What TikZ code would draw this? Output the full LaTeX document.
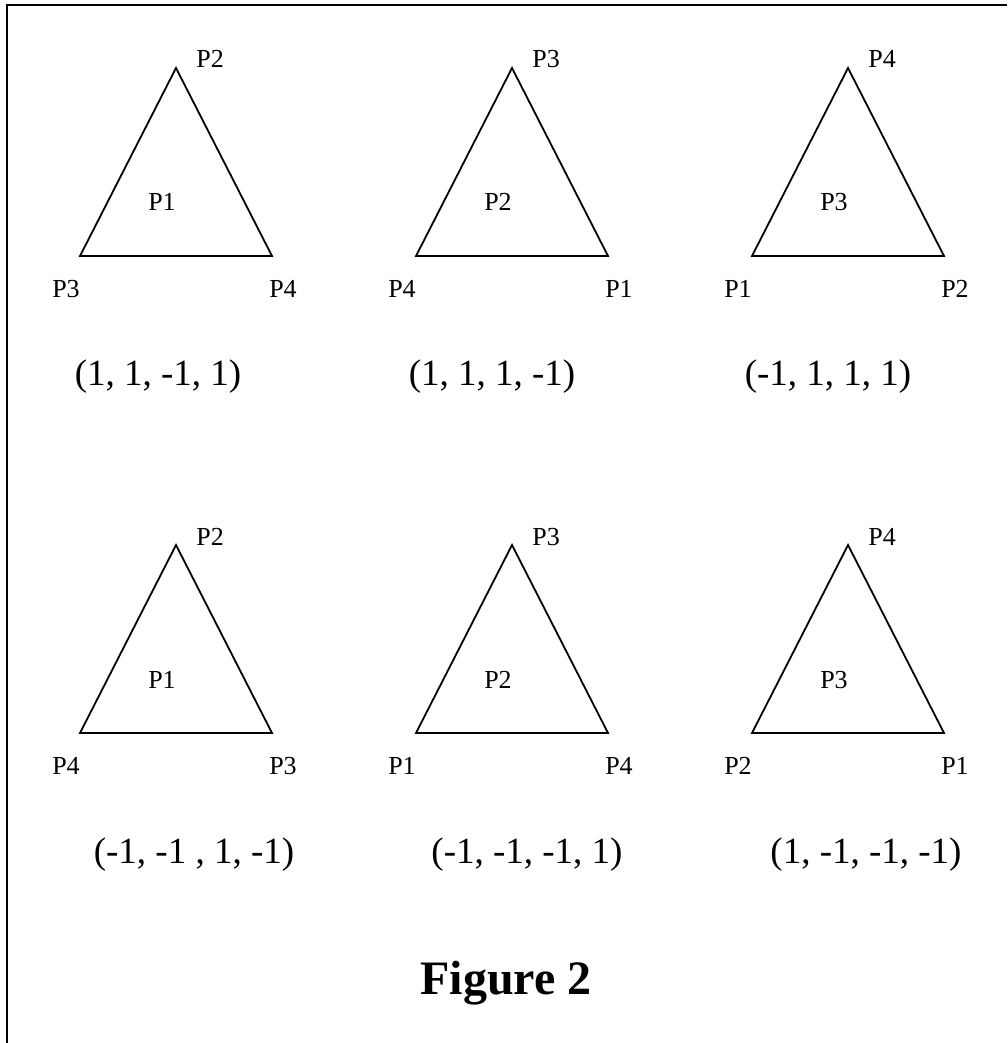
\documentclass[tikz,border=0pt]{standalone}
\usepackage{fontspec}
\setmainfont{Liberation Serif}
\usepackage{tikz}
\usetikzlibrary{positioning}

\begin{document}
\begin{tikzpicture}[x=0.5pt, y=-0.5pt,
		tri/.style={draw=black, line width=0.9pt, line join=miter},
		frameline/.style={draw=black, line width=1.1pt},
		plbl/.style={font=\fontsize{13}{15}\selectfont, inner sep=0pt, anchor=base},
		toplbl/.style={plbl, anchor=base west},
		tuple/.style={font=\fontsize{18.5}{22}\selectfont, inner sep=0pt, anchor=base},
		caption/.style={font=\fontsize{24}{28}\selectfont\bfseries, inner sep=0pt, anchor=base}
	]
	\useasboundingbox (0,0) rectangle (1007,1043);
	% frame (only left and top edges are inside the page)
	\coordinate (fbot) at (7,1043);
	\coordinate (ftop) at (1007,5);
	\draw[frameline] (fbot) |- (ftop);

	% first row
	\coordinate (apexA) at (176,68); \coordinate (leftA) at (80,256); \coordinate (rightA) at (272,256);
	\draw[tri] (apexA) -- (rightA) -- (leftA) -- cycle;
	\node[toplbl] (aTop) at (196,68) {P2};
	\node[plbl] (aLeft) at (66,297) {P3};
	\node[plbl] (aRight) at (283,297) {P4};
	\node[plbl] (aMid) at (162,211) {P1};
	\node[tuple] (aVec) at (158,385) {(1, 1, -1, 1)};

	\coordinate (apexB) at (512,68); \coordinate (leftB) at (416,256); \coordinate (rightB) at (608,256);
	\draw[tri] (apexB) -- (rightB) -- (leftB) -- cycle;
	\node[toplbl] (bTop) at (532,68) {P3};
	\node[plbl] (bLeft) at (402,297) {P4};
	\node[plbl] (bRight) at (619,297) {P1};
	\node[plbl] (bMid) at (498,211) {P2};
	\node[tuple] (bVec) at (492,385) {(1, 1, 1, -1)};

	\coordinate (apexC) at (848,68); \coordinate (leftC) at (752,256); \coordinate (rightC) at (944,256);
	\draw[tri] (apexC) -- (rightC) -- (leftC) -- cycle;
	\node[toplbl] (cTop) at (868,68) {P4};
	\node[plbl] (cLeft) at (738,297) {P1};
	\node[plbl] (cRight) at (955,297) {P2};
	\node[plbl] (cMid) at (834,211) {P3};
	\node[tuple] (cVec) at (828,385) {(-1, 1, 1, 1)};

	% second row
	\coordinate (apexD) at (176,545); \coordinate (leftD) at (80,733); \coordinate (rightD) at (272,733);
	\draw[tri] (apexD) -- (rightD) -- (leftD) -- cycle;
	\node[toplbl] (dTop) at (196,545) {P2};
	\node[plbl] (dLeft) at (66,774) {P4};
	\node[plbl] (dRight) at (283,774) {P3};
	\node[plbl] (dMid) at (162,688) {P1};
	\node[tuple] (dVec) at (194,863) {(-1, -1 , 1, -1)};

	\coordinate (apexE) at (512,545); \coordinate (leftE) at (416,733); \coordinate (rightE) at (608,733);
	\draw[tri] (apexE) -- (rightE) -- (leftE) -- cycle;
	\node[toplbl] (eTop) at (532,545) {P3};
	\node[plbl] (eLeft) at (402,774) {P1};
	\node[plbl] (eRight) at (619,774) {P4};
	\node[plbl] (eMid) at (498,688) {P2};
	\node[tuple] (eVec) at (527,863) {(-1, -1, -1, 1)};

	\coordinate (apexF) at (848,545); \coordinate (leftF) at (752,733); \coordinate (rightF) at (944,733);
	\draw[tri] (apexF) -- (rightF) -- (leftF) -- cycle;
	\node[toplbl] (fTop) at (868,545) {P4};
	\node[plbl] (fLeft) at (738,774) {P2};
	\node[plbl] (fRight) at (955,774) {P1};
	\node[plbl] (fMid) at (834,688) {P3};
	\node[tuple] (fVec) at (866,863) {(1, -1, -1, -1)};

	\node[caption] (fig) at (506,994) {Figure 2};
\end{tikzpicture}
\end{document}
